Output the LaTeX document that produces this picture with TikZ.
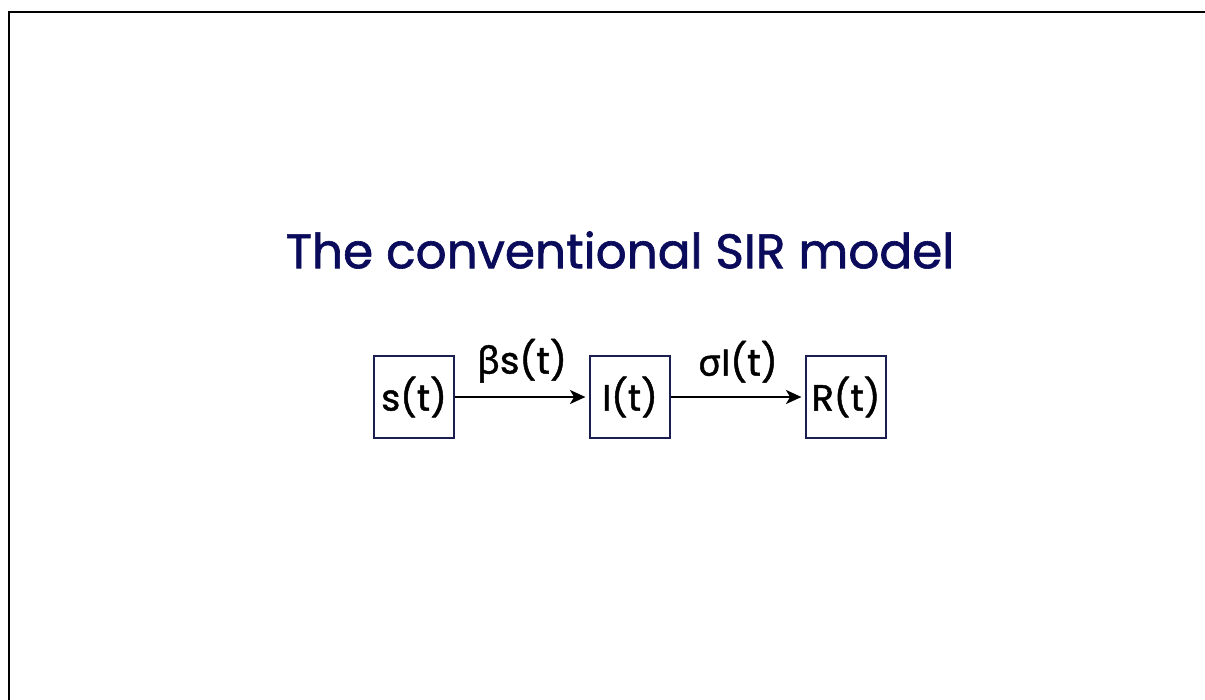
\documentclass[tikz,border=0pt]{standalone}
\usepackage{fontspec}
\setmainfont{Poppins}[FakeBold=1.3]
\newfontfamily\medfont{Poppins}[FakeBold=1.3]
\newfontfamily\greekfont{Noto Sans}[FakeBold=1.3]
\usetikzlibrary{arrows.meta}
\definecolor{titlenavy}{HTML}{0B0B5C}
\definecolor{boxnavy}{HTML}{1B1F4F}

\begin{document}
\begin{tikzpicture}[>={Stealth[length=4.4pt,width=4pt,inset=1.2pt]},x=0.01cm,y=-0.01cm,
  compartment/.style={draw=boxnavy,line width=0.6pt,minimum width=0.8cm,minimum height=0.82cm,inner sep=0pt,font=\medfont\fontsize{10.4}{12}\selectfont},
  rate/.style={above,inner sep=3.8pt,font=\medfont\fontsize{10.6}{12}\selectfont},
  flow/.style={->,line width=0.6pt,shorten >=1pt}]
  \useasboundingbox (0,0) rectangle (1205,700);
  % frame, cut off at the right and at the bottom
  \draw[line width=0.8pt](9,700)--(9,12)--(1205,12);
  \node[text=titlenavy,font=\medfont\fontsize{13.8}{16}\selectfont] (title) at (620,250) {The conventional SIR model};
  \node[compartment] (S) at (414,397) {s(t)};
  \node[compartment] (I) at (630,397) {I(t)};
  \node[compartment] (R) at (846,397) {R(t)};
  \draw[flow](S)--(I) node[rate,midway] {{\greekfont β}s(t)};
  \draw[flow](I)--(R) node[rate,midway] {{\greekfont σ}I(t)};
\end{tikzpicture}
\end{document}
